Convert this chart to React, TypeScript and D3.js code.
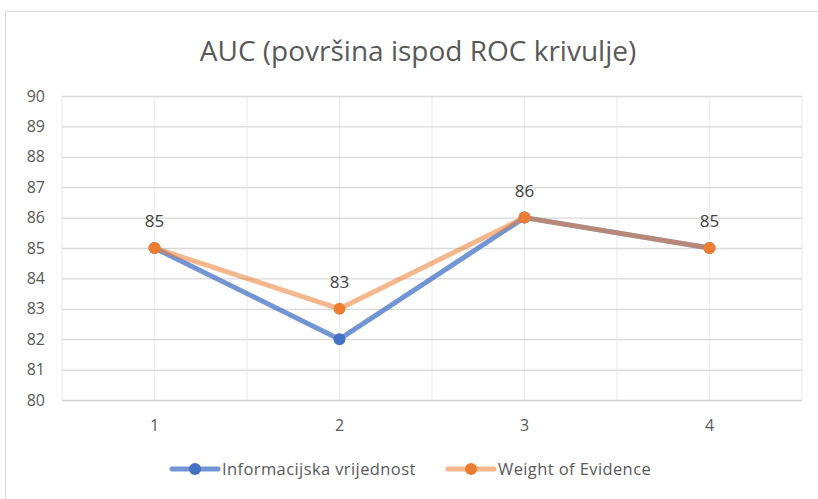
import React, { useEffect, useRef } from 'react';
import * as d3 from 'd3';

const categories = ['1', '2', '3', '4'];
const infoValues = [85, 82, 86, 85];
const woeValues = [85, 83, 86, 85];
const yTicks = [80, 81, 82, 83, 84, 85, 86, 87, 88, 89, 90];
const seriesNames = ['Informacijska vrijednost', 'Weight of Evidence'];

const FONT = '"Open Sans", "Noto Sans", sans-serif';
const TEXT = '#595959';

const App: React.FC = () => {
  const svgRef = useRef<SVGSVGElement>(null);

  useEffect(() => {
    document.body.style.margin = '0';
    if (!svgRef.current) return;
    const width = 818;
    const height = 499;
    const svg = d3.select(svgRef.current);
    svg.selectAll('*').remove();
    svg.attr('width', width).attr('height', height);

    // chart area border
    svg.append('rect')
      .attr('x', 5.5).attr('y', 11.5)
      .attr('width', 840).attr('height', 520)
      .attr('fill', '#fff').attr('stroke', '#d9d9d9');

    svg.append('text')
      .attr('x', 418).attr('y', 61)
      .attr('text-anchor', 'middle')
      .attr('font-family', FONT).attr('font-size', 28)
      .attr('fill', TEXT)
      .text('AUC (površina ispod ROC krivulje)');

    const x = d3.scaleBand().domain(categories).range([62, 802]);
    const y = d3.scaleLinear().domain([80, 90]).range([400, 96]);
    const cx = (c: string) => (x(c) || 0) + x.bandwidth() / 2;

    // vertical gridlines (boundaries and centres)
    const vLines: number[] = [];
    categories.forEach(c => { vLines.push(x(c) || 0); vLines.push(cx(c)); });
    vLines.push(802);
    svg.append('g').selectAll('line').data(vLines).enter().append('line')
      .attr('x1', d => d).attr('x2', d => d)
      .attr('y1', y(90)).attr('y2', y(80))
      .attr('stroke', '#efefef').attr('stroke-width', 1.3);

    // horizontal gridlines
    svg.append('g').selectAll('line').data(yTicks).enter().append('line')
      .attr('x1', 62).attr('x2', 802)
      .attr('y1', d => y(d) + 0.5).attr('y2', d => y(d) + 0.5)
      .attr('stroke', d => d === 80 ? '#d0d0d0' : '#d9d9d9')
      .attr('stroke-width', 1.3);

    svg.append('g').selectAll('text').data(yTicks).enter().append('text')
      .attr('x', 45).attr('y', d => y(d) + 5.5)
      .attr('text-anchor', 'end')
      .attr('font-family', FONT).attr('font-size', 16)
      .attr('fill', TEXT)
      .text(d => d);

    svg.append('g').selectAll('text').data(categories).enter().append('text')
      .attr('x', d => cx(d)).attr('y', 431)
      .attr('text-anchor', 'middle')
      .attr('font-family', FONT).attr('font-size', 16)
      .attr('fill', TEXT)
      .text(d => d);

    const line = d3.line<number>()
      .x((_, i) => cx(categories[i]))
      .y(d => y(d));

    // Informacijska vrijednost
    svg.append('path').datum(infoValues)
      .attr('d', line)
      .attr('fill', 'none')
      .attr('stroke', '#4472C4').attr('stroke-opacity', 0.75)
      .attr('stroke-width', 5).attr('stroke-linejoin', 'round');
    svg.append('g').selectAll('circle').data(infoValues).enter().append('circle')
      .attr('cx', (_, i) => cx(categories[i])).attr('cy', d => y(d))
      .attr('r', 6).attr('fill', '#4472C4');

    // Weight of Evidence
    svg.append('path').datum(woeValues)
      .attr('d', line)
      .attr('fill', 'none')
      .attr('stroke', '#ED7D31').attr('stroke-opacity', 0.55)
      .attr('stroke-width', 5).attr('stroke-linejoin', 'round');
    svg.append('g').selectAll('circle').data(woeValues).enter().append('circle')
      .attr('cx', (_, i) => cx(categories[i])).attr('cy', d => y(d))
      .attr('r', 6).attr('fill', '#ED7D31');

    svg.append('g').selectAll('text').data(woeValues).enter().append('text')
      .attr('x', (_, i) => cx(categories[i])).attr('y', d => y(d) - 21)
      .attr('text-anchor', 'middle')
      .attr('font-family', FONT).attr('font-size', 17)
      .attr('fill', '#404040')
      .text(d => d);

    // legend
    const legend = [
      { name: seriesNames[0], color: '#4472C4', opacity: 0.75, x0: 172 },
      { name: seriesNames[1], color: '#ED7D31', opacity: 0.55, x0: 448 },
    ];
    const lg = svg.append('g').selectAll('g').data(legend).enter().append('g');
    lg.append('line')
      .attr('x1', d => d.x0).attr('x2', d => d.x0 + 46)
      .attr('y1', 469).attr('y2', 469)
      .attr('stroke', d => d.color).attr('stroke-opacity', d => d.opacity)
      .attr('stroke-width', 5).attr('stroke-linecap', 'round');
    lg.append('circle')
      .attr('cx', d => d.x0 + 23).attr('cy', 469).attr('r', 6)
      .attr('fill', d => d.color);
    lg.append('text')
      .attr('x', d => d.x0 + 50).attr('y', 475)
      .attr('font-family', FONT).attr('font-size', 16.5)
      .attr('letter-spacing', 0.4)
      .attr('fill', TEXT)
      .text(d => d.name);
  }, []);

  return <svg ref={svgRef} style={{ display: 'block' }}></svg>;
};

export default App;
